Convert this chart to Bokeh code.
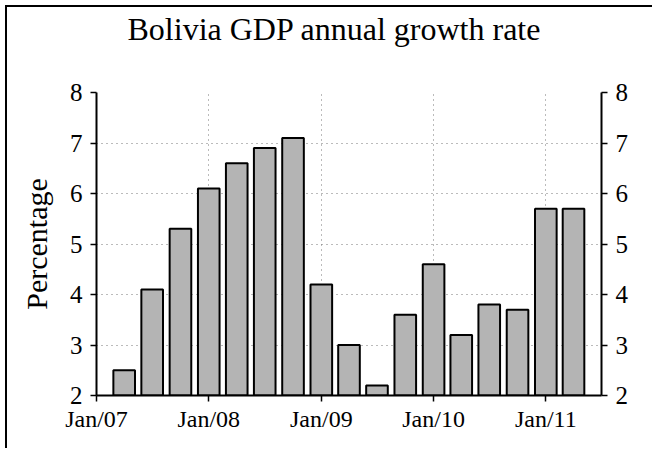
import pandas as pd
from bokeh.plotting import figure
from bokeh.models import LinearAxis, Range1d, FixedTicker, DatetimeTickFormatter, Title
from bokeh.embed import file_html
from bokeh.resources import INLINE

# Data (quarterly)
quarters = ["2007-04-01", "2007-07-01", "2007-10-01", "2008-01-01", "2008-04-01",
            "2008-07-01", "2008-10-01", "2009-01-01", "2009-04-01", "2009-07-01",
            "2009-10-01", "2010-01-01", "2010-04-01", "2010-07-01", "2010-10-01",
            "2011-01-01", "2011-04-01"]
growth = [2.5, 4.1, 5.3, 6.1, 6.6, 6.9, 7.1, 4.2, 3.0, 2.2, 3.6, 4.6, 3.2, 3.8, 3.7, 5.7, 5.7]
year_ticks = ["2007-01-01", "2008-01-01", "2009-01-01", "2010-01-01", "2011-01-01"]
y_ticks = [2, 3, 4, 5, 6, 7, 8]
title_text = "Bolivia GDP annual growth rate"

x = pd.to_datetime(quarters)
ticks_ms = [pd.Timestamp(t).value / 1e6 for t in year_ticks]
x_start = pd.Timestamp("2007-01-01").value / 1e6
x_end = pd.Timestamp("2011-07-01").value / 1e6
quarter_ms = 91.3 * 24 * 3600 * 1000
bar_w = 0.77 * quarter_ms

FONT = "Liberation Serif"

p = figure(width=647, height=443, x_axis_type="datetime",
           x_range=Range1d(x_start, x_end), y_range=Range1d(2, 8),
           output_backend="svg", toolbar_location=None, title=title_text,
           min_border_left=89, min_border_right=53, min_border_top=85, min_border_bottom=55)

p.styles = {"margin-left": "5px", "margin-top": "5px",
            "border-left": "2px solid black", "border-top": "2px solid black"}

p.title.text_font = FONT
p.title.text_font_size = "32px"
p.title.text_font_style = "normal"
p.title.align = "left"
p.title.vertical_align = "top"
p.title.offset = 31
p.title.standoff = 4
p.title.text_color = "black"

# empty spacer between the title and the plot frame
p.add_layout(Title(text=" ", text_font_size="1px", standoff=39), "above")

p.outline_line_color = None
p.background_fill_color = "white"
p.border_fill_color = "white"

p.vbar(x=x, top=growth, bottom=2, width=bar_w, fill_color="#b4b4b4",
       line_color="black", line_width=2)

xt = FixedTicker(ticks=ticks_ms)
p.xaxis.ticker = xt
p.xaxis.formatter = DatetimeTickFormatter(years="%b/%y", months="%b/%y", days="%b/%y",
                                          hours="%b/%y", minutes="%b/%y", seconds="%b/%y",
                                          milliseconds="%b/%y", microseconds="%b/%y",
                                          hourmin="%b/%y", minsec="%b/%y")
p.yaxis.ticker = FixedTicker(ticks=y_ticks)
p.yaxis.axis_label = "Percentage"

right = LinearAxis(ticker=FixedTicker(ticks=y_ticks))
p.add_layout(right, "right")

for ax in [p.xaxis[0], p.yaxis[0], right]:
    ax.axis_line_color = "black"
    ax.axis_line_width = 2
    ax.major_tick_line_color = "black"
    ax.major_tick_line_width = 1.5
    ax.major_tick_out = 6
    ax.major_tick_in = 0
    ax.minor_tick_line_color = None
    ax.major_label_text_font = FONT
    ax.major_label_text_color = "black"

p.xaxis.major_label_text_font_size = "24px"
p.xaxis.major_label_standoff = 4
p.yaxis.major_label_text_font_size = "25px"
right.major_label_text_font_size = "25px"
p.yaxis.major_label_standoff = 8
right.major_label_standoff = 8
p.yaxis.axis_label_text_font = FONT
p.yaxis.axis_label_text_font_size = "30px"
p.yaxis.axis_label_text_font_style = "normal"
p.yaxis.axis_label_text_color = "black"
p.yaxis.axis_label_standoff = 14

p.xgrid.ticker = xt
p.xgrid.grid_line_color = "#777777"
p.xgrid.grid_line_dash = "1 4"
p.xgrid.grid_line_width = 1
p.ygrid.grid_line_color = "#777777"
p.ygrid.grid_line_dash = "1 4"
p.ygrid.grid_line_width = 1

open("out.html", "w").write(file_html(p, INLINE))
